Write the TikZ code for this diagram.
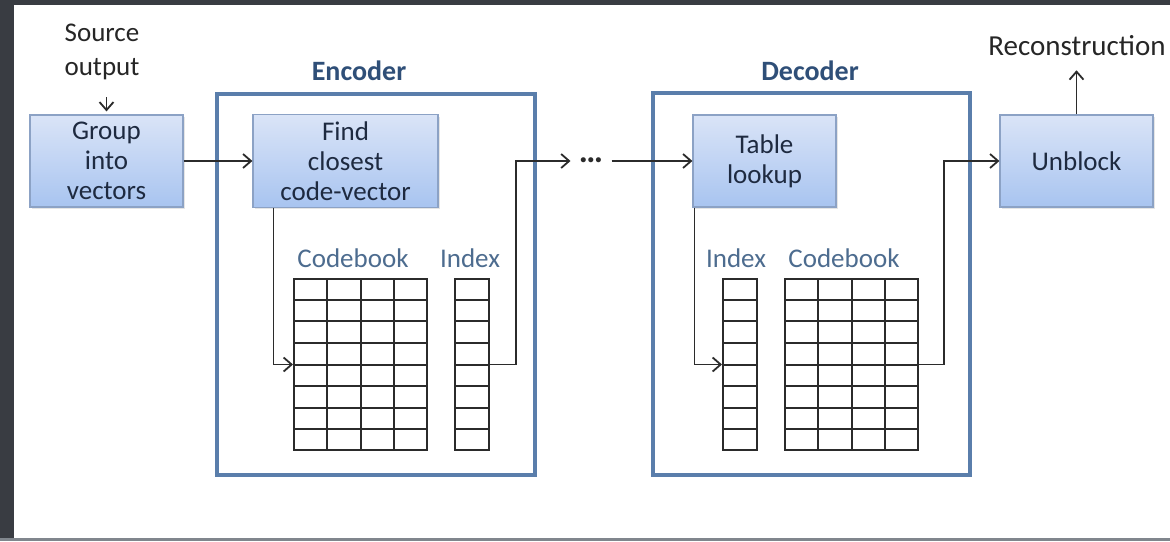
\documentclass[tikz,border=0pt]{standalone}
\usepackage{fontspec}
\setmainfont{Carlito}
\usetikzlibrary{positioning, calc, shadows, arrows.meta}

\definecolor{frameblue}{HTML}{5A7EAB}
\definecolor{boxtop}{HTML}{DAE4F7}
\definecolor{boxbot}{HTML}{A8C4F0}
\definecolor{boxline}{HTML}{8CA2C5}
\definecolor{boxtext}{HTML}{1E2A40}
\definecolor{headtext}{HTML}{2F4F78}
\definecolor{tbltext}{HTML}{4D6C8F}
\definecolor{wire}{HTML}{2B2B2B}
\definecolor{slide}{HTML}{393C42}
\definecolor{slideedge}{HTML}{80868D}

\begin{document}
\begin{tikzpicture}[x=0.5pt, y=-0.5pt,
  block/.style={rectangle, draw=boxline, line width=0.6pt, top color=boxtop, bottom color=boxbot,
    minimum height=46pt, align=center, text=boxtext, font=\fontsize{13.5}{15}\selectfont,
    drop shadow={opacity=0.2, shadow xshift=1pt, shadow yshift=-1pt}},
  txt/.style={align=center, text=black!85, font=\fontsize{13.5}{17}\selectfont},
  frame/.style={rectangle, draw=frameblue, line width=1.7pt, inner sep=0pt},
  head/.style={text=headtext, font=\fontsize{14}{16}\selectfont\bfseries},
  tbl/.style={rectangle, draw=wire, line width=1pt, inner sep=0pt, minimum height=85.5pt},
  tblhead/.style={text=tbltext, font=\fontsize{13.5}{15}\selectfont},
  cell/.style={draw=wire, line width=1pt},
  conn/.style={-{Straight Barb[length=4pt, width=7pt]}, draw=wire, line width=0.9pt}]

% slide background
\fill[white] (0,0) rectangle (1170,541);
\fill[slide] (0,0) rectangle (14,541);
\fill[slide] (0,0) rectangle (1170,5);
\fill[slideedge] (0,538) rectangle (1170,541);
\useasboundingbox (0,0) rectangle (1170,541);

% encoder and decoder frames
\node[frame, minimum width=159pt, minimum height=190.5pt] (enc) at (376,284.5) {};
\node[frame, minimum width=158.5pt, minimum height=191pt] (dec) at (811.5,284) {};
\node[head, anchor=base] (encLbl) at (359,80) {Encoder};
\node[head, anchor=base] (decLbl) at (810,80) {Decoder};

% blocks
\node[txt] (src) at (102,52) {Source\\output};
\node[block, minimum width=76.5pt] (grp) at (106.5,161) {Group\\into\\vectors};
\node[block, minimum width=92.5pt] (find) at (345.5,161) {Find\\closest\\code-vector};
\node[inner xsep=4pt, text=wire, text height=1.4pt, text depth=0pt,
  font=\fontsize{17}{17}\selectfont\bfseries] (dots) at (591,161) {…};
\node[block, minimum width=71.5pt] (tab) at (764.5,161) {Table\\lookup};
\node[block, minimum width=76.5pt] (unb) at (1076.5,161) {Unblock};
\node[txt, anchor=base, font=\fontsize{14.5}{17}\selectfont] (rec) at (1077,55) {Reconstruction};

% tables
\node[tbl, minimum width=66.5pt] (cbE) at (360.5,364.5) {};
\node[tbl, minimum width=17pt] (ixE) at (472,364.5) {};
\node[tbl, minimum width=17pt] (ixD) at (740,364.5) {};
\node[tbl, minimum width=66.5pt] (cbD) at (851.5,364.5) {};
\node[tblhead, anchor=base] (cbElbl) at (353,267) {Codebook};
\node[tblhead, anchor=base] (ixElbl) at (470,267) {Index};
\node[tblhead, anchor=base] (ixDlbl) at (736,267) {Index};
\node[tblhead, anchor=base] (cbDlbl) at (844,267) {Codebook};

\foreach \g in {cbE, ixE, ixD, cbD}
  \foreach \r in {1,...,7}
    \draw[cell] ($(\g.north west)!\r/8!(\g.south west)$) -- ($(\g.north east)!\r/8!(\g.south east)$);
\foreach \g in {cbE, cbD}
  \foreach \k in {1,2,3}
    \draw[cell] ($(\g.north west)!\k/4!(\g.north east)$) -- ($(\g.south west)!\k/4!(\g.south east)$);

% connectors
\draw[conn, shorten <=5pt, shorten >=1.5pt] (src.south -| grp.north) -- (grp.north);
\draw[conn] (grp) -- (find);
\draw[conn] ([xshift=10.5pt]find.south west) |- (cbE.west);
\draw[conn] (ixE.east) -- ++(13pt,0) |- (dots.west);
\draw[conn] (dots) -- (tab);
\draw[conn] ([xshift=1pt]tab.south west) |- (ixD.west);
\draw[conn] (cbD.east) -- ++(12.5pt,0) |- (unb.west);
\draw[conn, shorten >=4pt] (unb.north) -- (unb.north |- rec.south);

\end{tikzpicture}
\end{document}
